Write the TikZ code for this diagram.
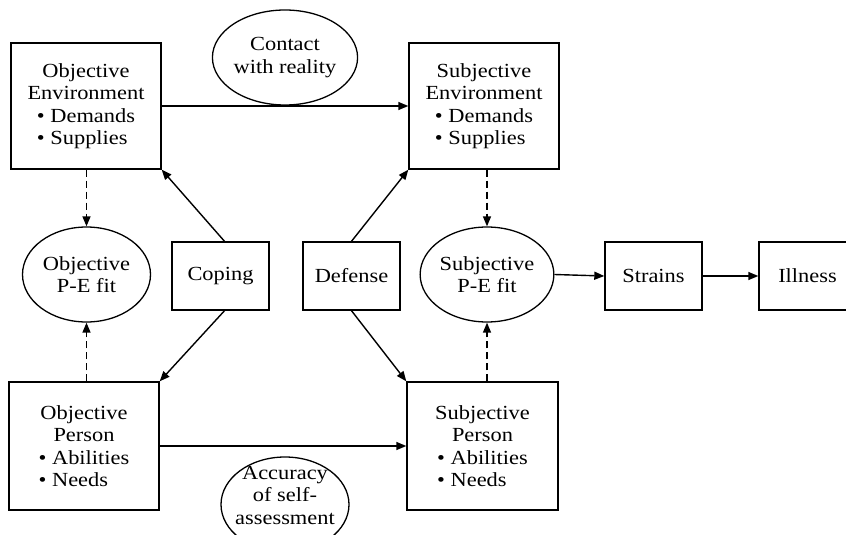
\documentclass[tikz,border=0pt]{standalone}
\usepackage{fontspec}
\setmainfont{Liberation Serif}[FakeStretch=1.12]
\usepackage{calc}
\usetikzlibrary{arrows.meta,shapes.geometric}
\newcommand\lbox[2]{\makebox[\widthof{#2}][l]{#1}}
\begin{document}
\begin{tikzpicture}[x=1pt,y=-1pt,
  font=\fontsize{20}{22.5}\selectfont,
  bigbox/.style={draw, line width=1.4pt, rectangle, inner sep=0pt, align=center, minimum width=150pt, minimum height=126pt},
  smallbox/.style={draw, line width=1.4pt, rectangle, inner sep=0pt, align=center, minimum width=97pt, minimum height=68pt},
  oval/.style={draw, line width=1.3pt, ellipse, inner sep=0pt, align=center, minimum width=128pt, minimum height=95pt},
  arr/.style={line width=1.4pt, -{Triangle[length=10pt,width=8pt]}},
  darr/.style={arr, dash pattern=on 7pt off 4pt}]
\useasboundingbox (0,0) rectangle (846,535);
\clip (0,0) rectangle (846,535);
% boxes
\node[bigbox] (oe) at (86,106) {Objective\\Environment\\\lbox{• Demands}{• Demands}\\\lbox{• Supplies}{• Demands}};
\node[bigbox] (se) at (484,106) {Subjective\\Environment\\\lbox{• Demands}{• Demands}\\\lbox{• Supplies}{• Demands}};
\node[bigbox, minimum height=128pt] (op) at (84,446) {Objective\\Person\\\lbox{• Abilities}{• Abilities}\\\lbox{• Needs}{• Abilities}};
\node[bigbox, minimum height=128pt, minimum width=151pt] (sp) at (482.5,446) {Subjective\\Person\\\lbox{• Abilities}{• Abilities}\\\lbox{• Needs}{• Abilities}};
\node[smallbox] (cop) at (220.5,276) {Coping};
\node[smallbox] (def) at (351.5,276) {Defense};
\node[smallbox] (str) at (653.5,276) {Strains};
\node[smallbox] (ill) at (807.5,276) {Illness};
% ellipses
\node[oval] (con) at (285,57.5) {Contact\\with reality};
\node[oval] (ope) at (86.5,274.5) {Objective\\P-E fit};
\node[oval] (spe) at (487,274.5) {Subjective\\P-E fit};
\node[oval] (acc) at (285,504.5) {};
\node[align=center, inner sep=0pt] (acct) at (285,495) {Accuracy\\of self-\\assessment};
% connectors
\draw[arr] (oe.east) -- (se.west);
\draw[arr] (op.east) -- (sp.west);
\draw[arr] ([xshift=4pt]cop.north) -- (oe.south east);
\draw[arr] ([xshift=4pt]cop.south) -- (op.north east);
\draw[arr] (def.north) -- (se.south west);
\draw[arr] (def.south) -- (sp.north west);
\draw[darr] (oe.south -| ope.north) -- (ope.north);
\draw[darr] (op.north -| ope.south) -- (ope.south);
\draw[darr] (se.south -| spe.north) -- (spe.north);
\draw[darr] (sp.north -| spe.south) -- (spe.south);
\draw[arr] (spe.east) -- (str.west);
\draw[arr] (str.east) -- (ill.west);
\end{tikzpicture}
\end{document}
